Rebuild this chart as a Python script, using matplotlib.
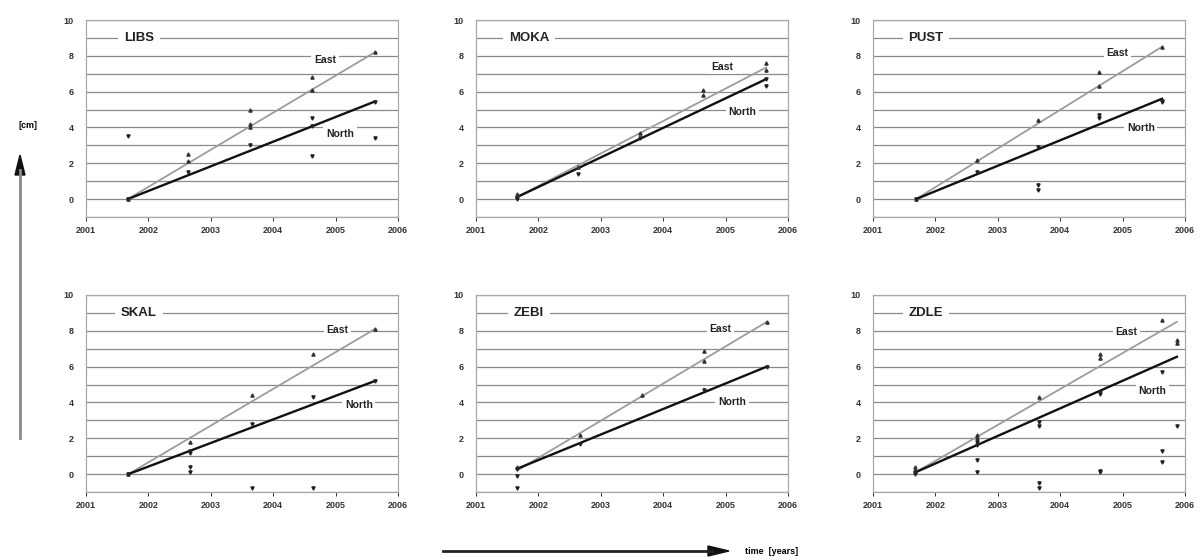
import numpy as np
import matplotlib.pyplot as plt

# station names
stations = ["LIBS", "MOKA", "PUST", "SKAL", "ZEBI", "ZDLE"]

# measured displacements [cm]: (epoch, value)
libs_east = [(2001.67, 0.0), (2002.64, 2.5), (2002.64, 2.1), (2003.63, 5.0), (2003.63, 4.2),
             (2003.63, 4.0), (2004.62, 6.8), (2004.62, 6.1), (2005.63, 8.2)]
libs_north = [(2001.67, 0.0), (2001.67, 3.5), (2002.64, 1.5), (2003.63, 3.0), (2004.62, 4.5),
              (2004.62, 4.1), (2004.62, 2.4), (2005.63, 5.4), (2005.63, 3.4)]
moka_east = [(2001.65, 0.3), (2002.64, 1.8), (2003.63, 3.7), (2004.63, 6.1), (2004.63, 5.8),
             (2005.65, 7.6), (2005.65, 7.2)]
moka_north = [(2001.65, 0.0), (2002.64, 1.4), (2003.63, 3.4), (2005.65, 6.7), (2005.65, 6.3)]
pust_east = [(2001.69, 0.0), (2002.67, 2.2), (2003.65, 4.4), (2004.62, 7.1), (2004.62, 6.3),
             (2005.63, 8.5)]
pust_north = [(2001.69, 0.0), (2002.67, 1.5), (2003.65, 2.9), (2003.65, 0.8), (2003.65, 0.5),
              (2004.62, 4.7), (2004.62, 4.5), (2005.63, 5.5), (2005.63, 5.4)]
skal_east = [(2001.68, 0.0), (2002.66, 1.8), (2003.66, 4.4), (2004.63, 6.7), (2005.63, 8.1)]
skal_north = [(2001.68, 0.0), (2002.66, 1.3), (2002.66, 1.2), (2002.66, 0.4), (2002.66, 0.1),
              (2003.66, 2.8), (2003.66, -0.8), (2004.63, 4.3), (2004.63, -0.8), (2005.63, 5.2)]
zebi_east = [(2001.66, 0.4), (2002.66, 2.2), (2003.66, 4.4), (2004.66, 6.9), (2004.66, 6.3),
             (2005.66, 8.5)]
zebi_north = [(2001.66, 0.3), (2001.66, -0.1), (2001.66, -0.8), (2002.66, 1.7), (2004.66, 4.7),
              (2005.66, 6.0)]
zdle_east = [(2001.68, 0.4), (2001.68, 0.2), (2002.67, 2.2), (2002.67, 2.0), (2003.66, 4.3),
             (2004.64, 6.7), (2004.64, 6.5), (2005.63, 8.6), (2005.87, 7.5), (2005.87, 7.3)]
zdle_north = [(2001.68, 0.1), (2001.68, 0.0), (2002.67, 1.8), (2002.67, 1.6), (2002.67, 0.8),
              (2002.67, 0.1), (2003.66, 2.9), (2003.66, 2.7), (2003.66, -0.5), (2003.66, -0.8),
              (2004.64, 4.6), (2004.64, 4.5), (2004.64, 0.1), (2004.64, 0.2), (2005.63, 5.7),
              (2005.63, 1.3), (2005.63, 0.7), (2005.87, 2.7)]

# linear trends: start/end epoch and values
trend_t0 = [2001.67, 2001.65, 2001.69, 2001.68, 2001.66, 2001.68]
trend_t1 = [2005.63, 2005.65, 2005.63, 2005.63, 2005.66, 2005.87]
east_v0 = [0.0, 0.1, 0.0, 0.0, 0.2, 0.1]
east_v1 = [8.2, 7.35, 8.5, 8.1, 8.5, 8.5]
north_v0 = [0.0, 0.1, 0.0, 0.0, 0.3, 0.1]
north_v1 = [5.45, 6.7, 5.6, 5.2, 6.0, 6.55]

east_data = [libs_east, moka_east, pust_east, skal_east, zebi_east, zdle_east]
north_data = [libs_north, moka_north, pust_north, skal_north, zebi_north, zdle_north]

# label placement (layout)
east_lab = [(2004.83, 7.75), (2004.95, 7.4), (2004.92, 8.15), (2005.03, 8.05), (2004.92, 8.1), (2005.06, 7.95)]
north_lab = [(2005.07, 3.65), (2005.27, 4.85), (2005.29, 3.95), (2005.37, 3.85), (2005.1, 4.05), (2005.48, 4.65)]

W, H = 1204, 559
fig = plt.figure(figsize=(W / 100, H / 100), dpi=100)
plt.rcParams['font.family'] = ['Liberation Sans', 'DejaVu Sans']

lefts = [86, 476, 873]
tops = [20, 295]
pw, ph = 312, 197

for i, name in enumerate(stations):
    r, c = divmod(i, 3)
    ax = fig.add_axes([lefts[c] / W, 1 - (tops[r] + ph) / H, pw / W, ph / H])
    ax.set_xlim(2001, 2006)
    ax.set_ylim(-1, 10)
    ax.set_yticks(range(0, 11, 2))
    ax.set_yticks(range(-1, 11), minor=True)
    ax.set_xticks(range(2001, 2007))
    ax.grid(True, which='both', axis='y', color='#8a8a8a', lw=0.9)
    ax.set_axisbelow(True)
    for s in ax.spines.values():
        s.set_color('#a8a8a8')
        s.set_linewidth(0.9)
    ax.tick_params(axis='y', which='both', length=0, labelsize=6.5, colors='#333333', pad=9)
    ax.tick_params(axis='x', length=3, labelsize=6.5, colors='#333333', width=0.7)
    for lab in ax.get_xticklabels() + ax.get_yticklabels():
        lab.set_fontweight('bold')

    ax.plot([trend_t0[i], trend_t1[i]], [east_v0[i], east_v1[i]], color='#9c9c9c', lw=1.3)
    ax.plot([trend_t0[i], trend_t1[i]], [north_v0[i], north_v1[i]], color='#111111', lw=1.7)
    e = np.array(east_data[i])
    n = np.array(north_data[i])
    ax.plot(e[:, 0], e[:, 1], ls='none', marker='^', ms=2.3, color='#333333')
    ax.plot(n[:, 0], n[:, 1], ls='none', marker='v', ms=2.3, color='#222222')

    box = dict(facecolor='white', edgecolor='none', pad=2)
    ax.text(2001.85, 9, name, fontsize=9.5, fontweight='bold', ha='center', va='center',
            color='#222222', bbox=dict(facecolor='white', edgecolor='none', pad=4))
    ax.text(*east_lab[i], "East", fontsize=7.5, fontweight='bold', ha='center', va='center',
            color='#222222', bbox=box)
    ax.text(*north_lab[i], "North", fontsize=7.5, fontweight='bold', ha='center', va='center',
            color='#222222', bbox=box)

# axis arrows and labels
fig.add_artist(plt.Line2D([20 / W, 20 / W], [1 - 438 / H, 1 - 170 / H], color='#8a8a8a', lw=2))
fig.add_artist(plt.Polygon([[15 / W, 1 - 175 / H], [25 / W, 1 - 175 / H], [20 / W, 1 - 155 / H]],
                           closed=True, color='#111111'))
fig.text(28 / W, 1 - 125 / H, "[cm]", fontsize=6.5, fontweight='bold', ha='center', va='center')

fig.add_artist(plt.Line2D([443 / W, 712 / W], [1 - 551 / H, 1 - 551 / H], color='#222222', lw=2))
fig.add_artist(plt.Polygon([[708 / W, 1 - 546 / H], [708 / W, 1 - 556 / H], [729 / W, 1 - 551 / H]],
                           closed=True, color='#111111'))
fig.text(745 / W, 1 - 551 / H, "time  [years]", fontsize=6.5, fontweight='bold', ha='left', va='center')

fig.savefig("out.png", dpi=100)
